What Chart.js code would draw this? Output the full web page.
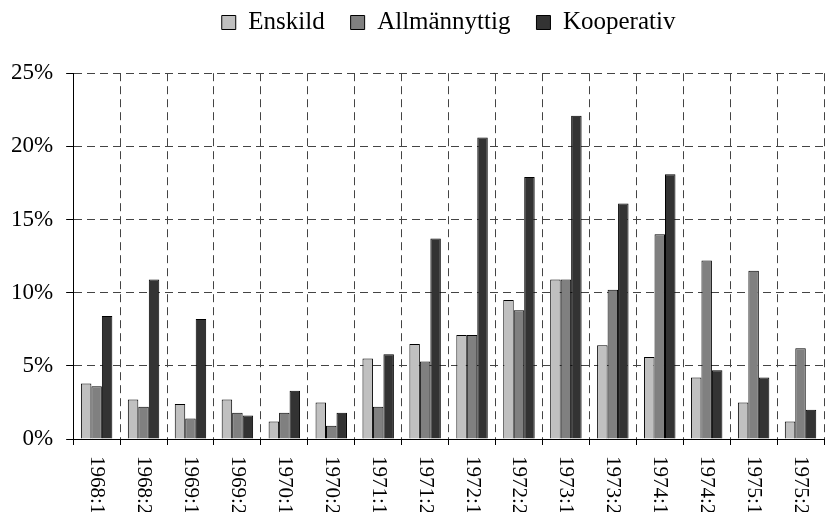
<!DOCTYPE html>
<html>
<head>
<meta charset="utf-8">
<script src="https://cdn.jsdelivr.net/npm/chart.js@4"></script>
<style>
  html, body { margin: 0; padding: 0; background: #fff; }
  #wrap { width: 825px; height: 512px; }
</style>
</head>
<body>
<div id="wrap"><canvas id="grafico"></canvas></div>
<script>
// dados
const periodos = ["1968:1", "1968:2", "1969:1", "1969:2", "1970:1", "1970:2", "1971:1", "1971:2",
                  "1972:1", "1972:2", "1973:1", "1973:2", "1974:1", "1974:2", "1975:1", "1975:2"];
const enskild = [3.8, 2.7, 2.4, 2.7, 1.2, 2.5, 5.5, 6.5, 7.1, 9.5, 10.9, 6.4, 5.6, 4.2, 2.5, 1.2];
const allmannyttig = [3.6, 2.2, 1.4, 1.8, 1.8, 0.9, 2.2, 5.3, 7.1, 8.8, 10.9, 10.2, 14.0, 12.2, 11.5, 6.2];
const kooperativ = [8.4, 10.9, 8.2, 1.6, 3.3, 1.8, 5.8, 13.7, 20.6, 17.9, 22.1, 16.1, 18.1, 4.7, 4.2, 2.0];
const yTicks = [0, 5, 10, 15, 20, 25];

const fonte = '"Liberation Serif", "Times New Roman", serif';
Chart.defaults.font.family = fonte;
Chart.defaults.color = "#000";

// rótulos do eixo x girados no sentido horário
const rotulosX = {
    id: "rotulosX",
    afterDraw(chart) {
        const ctx = chart.ctx;
        const xs = chart.scales.x;
        ctx.save();
        ctx.font = "21px " + fonte;
        ctx.fillStyle = "#000";
        ctx.textAlign = "left";
        ctx.textBaseline = "middle";
        periodos.forEach((p, i) => {
            ctx.save();
            ctx.translate(xs.getPixelForTick(i), chart.chartArea.bottom + 17);
            ctx.rotate(Math.PI / 2);
            ctx.fillText(p, 0, 0);
            ctx.restore();
        });
        ctx.restore();
    }
};

const serie = (label, data, cor) => ({
    label, data,
    backgroundColor: cor,
    borderColor: "#000",
    borderWidth: 1,
    categoryPercentage: 0.67,
    barPercentage: 1.0
});

new Chart(document.getElementById("grafico"), {
    type: "bar",
    data: {
        labels: periodos,
        datasets: [
            serie("Enskild", enskild, "#c0c0c0"),
            serie("Allmännyttig", allmannyttig, "#808080"),
            serie("Kooperativ", kooperativ, "#333333")
        ]
    },
    options: {
        responsive: true,
        maintainAspectRatio: false,
        animation: false,
        layout: { padding: { left: -2, right: 1, top: -16, bottom: 67 } },
        plugins: {
            legend: {
                position: "top",
                fullSize: false,
                labels: {
                    boxWidth: 14,
                    boxHeight: 14,
                    padding: 26,
                    font: { size: 25 }
                }
            },
            // espaço vazio entre a legenda e o gráfico
            title: {
                display: true,
                text: "",
                weight: 500,
                font: { size: 1 },
                padding: { top: 13, bottom: 14 }
            },
            tooltip: { enabled: false }
        },
        scales: {
            x: {
                offset: true,
                grid: { color: "#444", tickLength: 6, tickColor: "#000", offset: true },
                border: { color: "#000", dash: [8, 5] },
                ticks: { display: false }
            },
            y: {
                min: 0,
                max: 25,
                afterBuildTicks: axis => { axis.ticks = yTicks.map(v => ({ value: v })); },
                grid: { color: "#444", tickLength: 7, tickColor: "#000" },
                border: { color: "#000", dash: [8, 5] },
                ticks: {
                    padding: 13,
                    font: { size: 23 },
                    callback: v => v + "%"
                }
            }
        }
    },
    plugins: [rotulosX]
});
</script>
</body>
</html>
